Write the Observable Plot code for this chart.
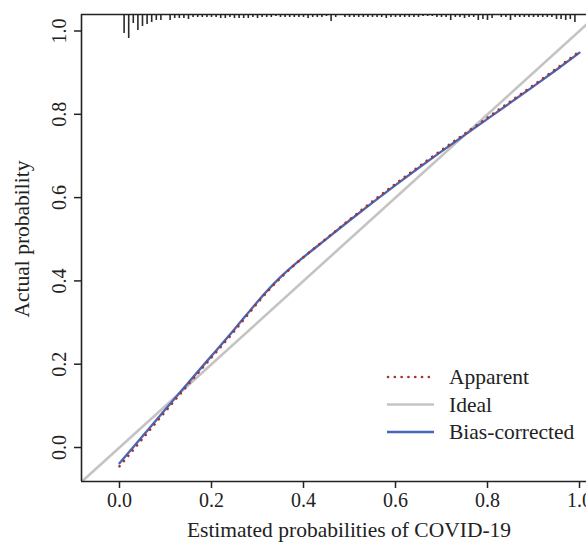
<!DOCTYPE html>
<html>
<head>
<meta charset="utf-8">
<script src="https://cdn.jsdelivr.net/npm/d3@7"></script>
<script src="https://cdn.jsdelivr.net/npm/@observablehq/plot@0.6"></script>
<style>
  html, body { margin: 0; padding: 0; background: #fff; }
  #chart { position: relative; width: 586px; height: 544px; }
</style>
</head>
<body>
<div id="chart"></div>
<script>
// ---- data ----
const xGrid = [0, 0.05, 0.1, 0.15, 0.2, 0.25, 0.3, 0.35, 0.4, 0.45, 0.5, 0.55, 0.6, 0.65, 0.7, 0.75, 0.8, 0.85, 0.9, 0.95, 1.0];
const biasCorrected = [-0.038, 0.027, 0.092, 0.156, 0.220, 0.284, 0.350, 0.409, 0.457, 0.501, 0.545, 0.588, 0.630, 0.671, 0.711, 0.750, 0.789, 0.828, 0.867, 0.907, 0.948];
const apparent = [-0.045, 0.021, 0.087, 0.152, 0.216, 0.280, 0.347, 0.407, 0.457, 0.502, 0.547, 0.591, 0.633, 0.674, 0.714, 0.753, 0.792, 0.831, 0.870, 0.910, 0.951];
const idealX = [-0.2, 1.2];

// distribution of predicted probabilities (spike lengths, relative)
const rugX = [];
for (let i = 1; i <= 99; i++) rugX.push(+(i * 0.01).toFixed(2));
const rugH = [
  19, 24, 9, 16, 12, 10, 8, 6, 6, 0,
  6, 4, 4, 4, 5, 3, 3, 3, 3, 3,
  3, 4, 4, 3, 4, 4, 4, 4, 3, 4,
  3, 3, 3, 2, 3, 3, 3, 3, 3, 3,
  4, 3, 3, 3, 2, 7, 3, 0, 3, 3,
  3, 3, 3, 3, 3, 3, 3, 4, 3, 3,
  3, 3, 3, 3, 3, 2, 2, 2, 3, 3,
  3, 6, 3, 3, 4, 3, 3, 6, 5, 6,
  4, 0, 3, 3, 6, 3, 3, 3, 3, 3,
  3, 3, 3, 3, 5, 5, 6, 5, 8
];
const ticks = [0, 0.2, 0.4, 0.6, 0.8, 1.0];
const legendLabels = ["Apparent", "Ideal", "Bias-corrected"];
const legendColors = ["#a3352c", "#c4c4c4", "#4a66b8"];

// ---- chart ----
const W = 586, H = 544;
const xDom = [-0.0826, 1.0152];
const yDom = [-0.0816, 1.0396];
const pxPerY = (481 - 14) / (yDom[1] - yDom[0]);
const font = "'Liberation Serif', 'DejaVu Serif', serif";
const dots = "0.1 6.7";

const curveData = xGrid.map((x, i) => ({x, bc: biasCorrected[i], ap: apparent[i]}));
const rugData = rugX.map((x, i) => ({x, h: rugH[i]})).filter(d => d.h > 0);

const plot = Plot.plot({
  width: W,
  height: H,
  marginLeft: 81,
  marginRight: 0,
  marginTop: 14,
  marginBottom: 63,
  style: {fontFamily: font, fontSize: "20px", color: "#222", background: "#fff"},
  x: {domain: xDom},
  y: {domain: yDom},
  marks: [
    Plot.line(idealX, {x: d => d, y: d => d, stroke: "#c4c4c4", strokeWidth: 2.6, clip: true}),
    Plot.line(curveData, {x: "x", y: "bc", curve: "natural", stroke: "#4a66b8", strokeWidth: 2.4}),
    Plot.line(curveData, {x: "x", y: "ap", curve: "natural", stroke: "#a3352c", strokeWidth: 2.6, strokeDasharray: dots, strokeLinecap: "round"}),
    Plot.ruleX(rugData, {x: "x", y1: yDom[1], y2: d => yDom[1] - d.h / pxPerY, stroke: "#2a2a2a", strokeWidth: 1.6}),
    Plot.ruleY([yDom[0]], {stroke: "#222", strokeWidth: 1.6}),
    Plot.ruleY([yDom[1]], {stroke: "#222", strokeWidth: 1.6}),
    Plot.ruleX([xDom[0]], {stroke: "#222", strokeWidth: 1.6}),
    Plot.axisX({ticks, tickFormat: d3.format(".1f"), tickSize: 7, tickPadding: 4, stroke: "#222", strokeWidth: 1.5, label: null, fontSize: 20, fill: "#222"}),
    Plot.axisY({ticks, tickFormat: d3.format(".1f"), tickSize: 7, tickPadding: 9, tickRotate: -90, stroke: "#222", strokeWidth: 1.5, label: null, fontSize: 20, fill: "#222"})
  ]
});

document.getElementById("chart").appendChild(plot);

const svg = d3.select(plot);
// axis titles
svg.append("text")
  .attr("x", 349).attr("y", 537)
  .attr("text-anchor", "middle")
  .attr("font-family", font).attr("font-size", 21.5).attr("fill", "#222")
  .text("Estimated probabilities of COVID-19");
svg.append("text")
  .attr("transform", "translate(29,239) rotate(-90)")
  .attr("text-anchor", "middle")
  .attr("font-family", font).attr("font-size", 21.5).attr("fill", "#222")
  .text("Actual probability");

// legend
const lg = svg.append("g");
legendLabels.forEach((lab, i) => {
  const y = 377 + i * 27.5;
  const ln = lg.append("line")
    .attr("x1", i === 0 ? 388 : 387).attr("x2", 434).attr("y1", y).attr("y2", y)
    .attr("stroke", legendColors[i]);
  if (i === 0) ln.attr("stroke-width", 2.6).attr("stroke-dasharray", dots).attr("stroke-linecap", "round");
  else ln.attr("stroke-width", i === 1 ? 2.6 : 2.4);
  lg.append("text")
    .attr("x", 449).attr("y", y + 7)
    .attr("text-anchor", "start")
    .attr("font-family", font).attr("font-size", 21.5).attr("fill", "#222")
    .text(lab);
});
</script>
</body>
</html>
